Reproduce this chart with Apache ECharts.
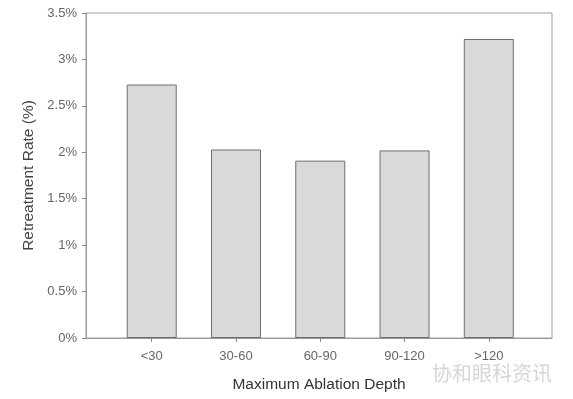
<!DOCTYPE html>
<html>
<head>
<meta charset="utf-8">
<script src="https://cdn.jsdelivr.net/npm/echarts@6/dist/echarts.min.js"></script>
<style>
	html, body { margin: 0; padding: 0; background: #fff; }
	#chart { width: 573px; height: 399px; }
</style>
</head>
<body>
<div id="chart"></div>
<script>
	// 最大切削深度分组
	var categories = ['<30', '30-60', '60-90', '90-120', '>120'];
	var rates = [2.73, 2.03, 1.91, 2.02, 3.22];
	var yTicks = [0, 0.5, 1, 1.5, 2, 2.5, 3, 3.5];

	var myChart = echarts.init(document.getElementById('chart'));
	var font = 'Liberation Sans, Arial, sans-serif';

	var option = {
		backgroundColor: '#fff',
		animation: false,
		grid: {
			left: 86,
			right: 21,
			top: 13,
			bottom: 61,
			outerBoundsMode: 'none',
			containLabel: false,
			show: true,
			borderColor: '#a0a0a0',
			borderWidth: 1
		},
		xAxis: {
			type: 'value',
			min: -0.78,
			max: 4.75,
			name: 'Maximum Ablation Depth',
			nameLocation: 'middle',
			nameGap: 39,
			nameTextStyle: { color: '#333', fontSize: 15.5, fontFamily: font },
			axisLine: { onZero: false, lineStyle: { color: '#999' } },
			axisTick: {
				show: true,
				length: 4,
				customValues: [0, 1, 2, 3, 4],
				lineStyle: { color: '#888' }
			},
			axisLabel: {
				customValues: [0, 1, 2, 3, 4],
				color: '#666',
				fontSize: 13,
				fontFamily: font,
				margin: 12,
				formatter: function (v) { return categories[v]; }
			},
			splitLine: { show: false }
		},
		yAxis: {
			type: 'value',
			min: yTicks[0],
			max: yTicks[yTicks.length - 1],
			interval: 0.5,
			name: 'Retreatment Rate (%)',
			nameLocation: 'middle',
			nameGap: 46,
			nameTextStyle: { color: '#444', fontSize: 15.5, fontFamily: font },
			axisLine: { show: true, onZero: false, lineStyle: { color: '#999' } },
			axisTick: { show: true, length: 4, lineStyle: { color: '#888' } },
			axisLabel: {
				color: '#666',
				fontSize: 13,
				fontFamily: font,
				margin: 9,
				formatter: function (v) { return v + '%'; }
			},
			splitLine: { show: false }
		},
		graphic: [{
			type: 'text',
			left: 432,
			top: 363,
			style: {
				text: '协和眼科资讯',
				fill: '#d6d6d6',
				font: '20px "Noto Sans CJK SC"'
			}
		}],
		series: [{
			type: 'bar',
			barWidth: 50,
			itemStyle: {
				color: '#d9d9d9',
				borderColor: '#6e6e6e',
				borderWidth: 1
			},
			data: rates.map(function (r, i) { return [i, r]; })
		}]
	};

	myChart.setOption(option);
</script>
</body>
</html>
